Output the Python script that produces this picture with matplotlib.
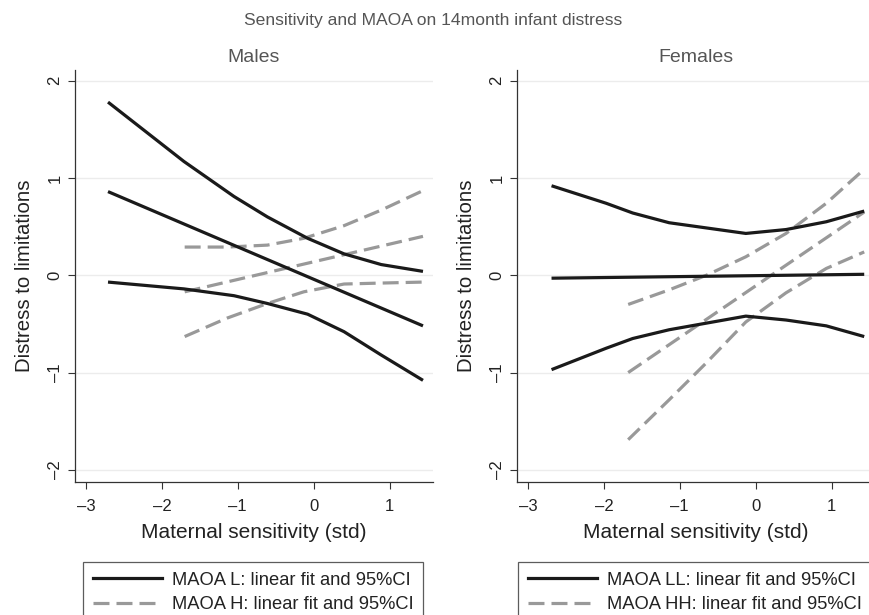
import matplotlib
matplotlib.use("Agg")
import matplotlib.pyplot as plt
from matplotlib.lines import Line2D
from matplotlib.transforms import IdentityTransform

plt.rcParams['font.family'] = ['Liberation Sans', 'DejaVu Sans']

# Males: MAOA L (black) and MAOA H (grey dashed)
m_L_x = [-2.71, -1.71, -1.05, -0.61, -0.08, 0.40, 0.89, 1.44]
m_L_upper = [1.78, 1.17, 0.81, 0.60, 0.38, 0.22, 0.11, 0.04]
m_L_lower = [-0.07, -0.14, -0.21, -0.29, -0.40, -0.58, -0.82, -1.08]
m_L_fit_x = [-2.71, 1.44]
m_L_fit = [0.86, -0.52]

m_H_x = [-1.70, -1.14, -0.61, -0.13, 0.40, 0.89, 1.44]
m_H_upper = [0.29, 0.29, 0.31, 0.38, 0.51, 0.67, 0.87]
m_H_lower = [-0.63, -0.44, -0.29, -0.17, -0.09, -0.08, -0.07]
m_H_fit_x = [-1.70, 1.44]
m_H_fit = [-0.17, 0.40]

# Females: MAOA LL (black) and MAOA HH (grey dashed)
f_L_x = [-2.69, -1.97, -1.62, -1.14, -0.13, 0.40, 0.93, 1.43]
f_L_upper = [0.92, 0.74, 0.64, 0.54, 0.43, 0.47, 0.55, 0.66]
f_L_lower = [-0.97, -0.75, -0.65, -0.56, -0.42, -0.46, -0.52, -0.63]
f_L_fit_x = [-2.69, 1.43]
f_L_fit = [-0.03, 0.01]

f_H_x = [-1.68, -1.14, -0.65, -0.13, 0.40, 0.93, 1.43]
f_H_upper = [-0.30, -0.15, 0.00, 0.19, 0.43, 0.74, 1.09]
f_H_lower = [-1.69, -1.28, -0.90, -0.48, -0.18, 0.07, 0.24]
f_H_fit_x = [-1.68, 1.43]
f_H_fit = [-1.00, 0.65]

x_ticks = [-3, -2, -1, 0, 1]
y_ticks = [-2, -1, 0, 1, 2]

W, H = 869, 615
fig = plt.figure(figsize=(W / 100, H / 100), dpi=100)

black = '#1a1a1a'
grey = '#999999'
lw = 2.3
dash = (5.0, 2.2)


def panel(left_px, title, Lx, Lup, Llo, Lfx, Lf, Hx, Hup, Hlo, Hfx, Hf,
          labels, leg_left, leg_width):
    ax = fig.add_axes([left_px / W, (H - 482) / H, 358 / W, 412 / H])
    ax.set_xlim(-3.145, 1.572)
    ax.set_ylim(-2.125, 2.11)
    for y in y_ticks:
        ax.axhline(y, color='#ececec', lw=1.0, zorder=0)
    for xs, ys in [(Lx, Lup), (Lx, Llo), (Lfx, Lf)]:
        ax.plot(xs, ys, color=black, lw=lw, solid_capstyle='butt', zorder=3)
    for xs, ys in [(Hx, Hup), (Hx, Hlo), (Hfx, Hf)]:
        ax.plot(xs, ys, color=grey, lw=lw, linestyle=(0, dash), zorder=2)
    ax.set_xticks(x_ticks)
    ax.set_yticks(y_ticks)
    ax.set_xticklabels([str(t).replace('-', '\u2013') for t in x_ticks])
    ax.set_yticklabels([str(t).replace('-', '\u2013') for t in y_ticks],
                       rotation=90, va='center')
    ax.tick_params(axis='both', labelsize=12, length=5, width=0.8,
                   color='#333333', labelcolor='#222222')
    ax.tick_params(axis='x', pad=7)
    ax.tick_params(axis='y', pad=4)
    for s in ['top', 'right']:
        ax.spines[s].set_visible(False)
    for s in ['left', 'bottom']:
        ax.spines[s].set_color('#333333')
        ax.spines[s].set_linewidth(0.9)
    ax.set_xlabel('Maternal sensitivity (std)', fontsize=15, color='#222222', labelpad=7)
    ax.set_ylabel('Distress to limitations', fontsize=14.7, color='#222222', labelpad=10)
    ax.set_title(title, fontsize=14, color='#555555', pad=6)

    handles = [Line2D([], [], color=black, lw=lw),
               Line2D([], [], color=grey, lw=lw, linestyle=(0, dash))]
    leg = ax.legend(handles, labels, loc='upper left', mode='expand',
                    bbox_to_anchor=(leg_left, 0, leg_width, H - 561.5),
                    bbox_transform=IdentityTransform(), fontsize=13.2,
                    frameon=True, fancybox=False, borderaxespad=0,
                    borderpad=0.55, handlelength=3.75, handletextpad=0.55,
                    labelspacing=0.42)
    leg.get_frame().set_edgecolor('#333333')
    leg.get_frame().set_linewidth(0.9)
    for t in leg.get_texts():
        t.set_color('#222222')
    return ax


panel(75, 'Males', m_L_x, m_L_upper, m_L_lower, m_L_fit_x, m_L_fit,
      m_H_x, m_H_upper, m_H_lower, m_H_fit_x, m_H_fit,
      ['MAOA L: linear fit and 95%CI', 'MAOA H: linear fit and 95%CI'],
      83, 340)
panel(517, 'Females', f_L_x, f_L_upper, f_L_lower, f_L_fit_x, f_L_fit,
      f_H_x, f_H_upper, f_H_lower, f_H_fit_x, f_H_fit,
      ['MAOA LL: linear fit and 95%CI', 'MAOA HH: linear fit and 95%CI'],
      518, 356)

fig.text(433 / W, 1 - 21 / H, 'Sensitivity and MAOA on 14month infant distress',
         ha='center', va='center', fontsize=12.6, color='#555555')

fig.savefig('out.png', dpi=100)
